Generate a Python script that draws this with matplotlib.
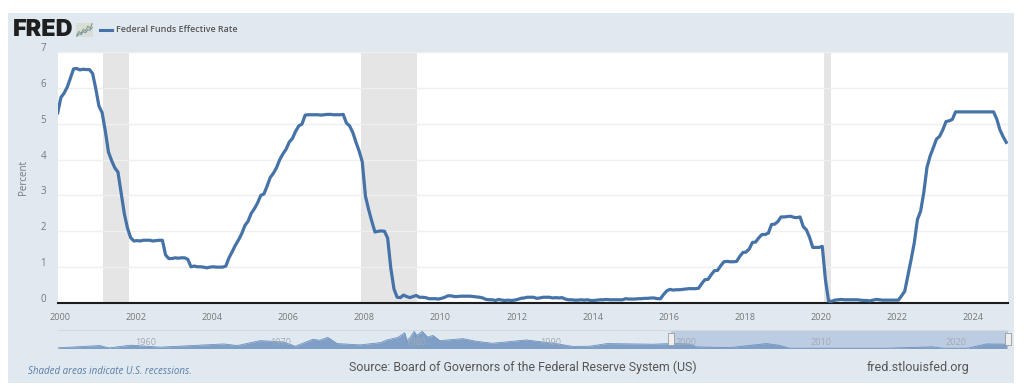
import matplotlib
matplotlib.use("Agg")
import matplotlib.pyplot as plt
import numpy as np
from matplotlib.patches import Rectangle
from matplotlib.transforms import ScaledTranslation

W, H = 1024, 392
YEARS = list(range(2000, 2025))
FEDFUNDS = [
    [5.30, 5.73, 5.85, 6.02, 6.27, 6.53, 6.54, 6.50, 6.52, 6.51, 6.51, 6.40],
    [5.98, 5.49, 5.31, 4.80, 4.21, 3.97, 3.77, 3.65, 3.07, 2.49, 2.09, 1.82],
    [1.73, 1.74, 1.73, 1.75, 1.75, 1.75, 1.73, 1.74, 1.75, 1.75, 1.34, 1.24],
    [1.24, 1.26, 1.25, 1.26, 1.26, 1.22, 1.01, 1.03, 1.01, 1.01, 1.00, 0.98],
    [1.00, 1.01, 1.00, 1.00, 1.00, 1.03, 1.26, 1.43, 1.61, 1.76, 1.93, 2.16],
    [2.28, 2.50, 2.63, 2.79, 3.00, 3.04, 3.26, 3.50, 3.62, 3.78, 4.00, 4.16],
    [4.29, 4.49, 4.59, 4.79, 4.94, 4.99, 5.24, 5.25, 5.25, 5.25, 5.25, 5.24],
    [5.25, 5.26, 5.26, 5.25, 5.25, 5.25, 5.26, 5.02, 4.94, 4.76, 4.49, 4.24],
    [3.94, 2.98, 2.61, 2.28, 1.98, 2.00, 2.01, 2.00, 1.81, 0.97, 0.39, 0.16],
    [0.15, 0.22, 0.18, 0.15, 0.18, 0.21, 0.16, 0.16, 0.15, 0.12, 0.12, 0.12],
    [0.11, 0.13, 0.16, 0.20, 0.20, 0.18, 0.18, 0.19, 0.19, 0.19, 0.19, 0.18],
    [0.17, 0.16, 0.14, 0.10, 0.09, 0.09, 0.07, 0.10, 0.08, 0.07, 0.08, 0.07],
    [0.08, 0.10, 0.13, 0.14, 0.16, 0.16, 0.16, 0.13, 0.14, 0.16, 0.16, 0.16],
    [0.14, 0.15, 0.14, 0.15, 0.11, 0.09, 0.09, 0.08, 0.08, 0.09, 0.08, 0.09],
    [0.07, 0.07, 0.08, 0.09, 0.09, 0.10, 0.09, 0.09, 0.09, 0.09, 0.09, 0.12],
    [0.11, 0.11, 0.11, 0.12, 0.12, 0.13, 0.13, 0.14, 0.14, 0.12, 0.12, 0.24],
    [0.34, 0.38, 0.36, 0.37, 0.37, 0.38, 0.39, 0.40, 0.40, 0.40, 0.41, 0.54],
    [0.65, 0.66, 0.79, 0.90, 0.91, 1.04, 1.15, 1.16, 1.15, 1.15, 1.16, 1.30],
    [1.41, 1.42, 1.51, 1.69, 1.70, 1.82, 1.91, 1.91, 1.95, 2.19, 2.20, 2.27],
    [2.40, 2.40, 2.41, 2.42, 2.39, 2.38, 2.40, 2.13, 2.04, 1.83, 1.55, 1.55],
    [1.55, 1.58, 0.65, 0.05, 0.05, 0.08, 0.09, 0.10, 0.09, 0.09, 0.09, 0.09],
    [0.09, 0.08, 0.07, 0.07, 0.06, 0.08, 0.10, 0.09, 0.08, 0.08, 0.08, 0.08],
    [0.08, 0.08, 0.20, 0.33, 0.77, 1.21, 1.68, 2.33, 2.56, 3.08, 3.78, 4.10],
    [4.33, 4.57, 4.65, 4.83, 5.06, 5.08, 5.12, 5.33, 5.33, 5.33, 5.33, 5.33],
    [5.33, 5.33, 5.33, 5.33, 5.33, 5.33, 5.33, 5.33, 5.13, 4.83, 4.64, 4.48],
]
RECESSIONS = [(2001.2, 2001.88), (2007.97, 2009.45), (2020.13, 2020.3)]
Y_TICKS = [0, 1, 2, 3, 4, 5, 6, 7]
X_TICKS = list(range(2000, 2025, 2))

NAV_YEARS = [1954.6, 1957.7, 1958.4, 1960.0, 1962.2, 1966.9, 1967.9, 1969.6, 1971.3, 1972.2,
             1973.5, 1974.0, 1974.6, 1975.3, 1977.0, 1978.5, 1979.0, 1979.8, 1980.3, 1980.5,
             1981.0, 1981.2, 1981.6, 1982.0, 1982.4, 1982.9, 1984.6, 1985.6, 1986.8, 1989.3,
             1991.5, 1992.8, 1994.0, 1995.3, 1998.7, 2000.0, 2001.3, 2001.9, 2004.0, 2004.6,
             2007.1, 2008.0, 2008.8, 2016.0, 2019.4, 2020.1, 2022.0, 2023.4, 2024.9]
NAV_VALUES = [0.7, 3.1, 0.6, 3.5, 1.4, 4.8, 3.1, 8.3, 6.9, 2.4,
              9.7, 8.7, 11.7, 5.2, 3.8, 6.2, 9.0, 11.7, 16.6, 6.9,
              18.0, 13.8, 18.0, 12.0, 13.8, 8.3, 10.4, 7.6, 5.5, 9.0,
              5.2, 2.1, 2.4, 5.2, 4.5, 5.2, 4.8, 1.7, 1.0, 1.2,
              5.2, 3.5, 0.3, 0.3, 1.7, 0.3, 0.3, 4.8, 4.5]
NAV_LABELS = [1960, 1970, 1980, 1990, 2000, 2010, 2020]
ICON_GREEN = [1, 2.2, 1.6, 3, 2.4, 4, 3.2, 4.8]
ICON_BLUE = [0.6, 1.4, 1.2, 2.2, 1.8, 2.8, 2.6, 3.6]

TICK = "#777777"
PANEL = "#e1e9f0"
BLUE = "#4572a7"

plt.rcParams["font.family"] = ["Open Sans", "DejaVu Sans"]
fig = plt.figure(figsize=(W / 100, H / 100), dpi=100, facecolor="white")

def box(l, t, r, b):
    return [l / W, 1 - b / H, (r - l) / W, (b - t) / H]

bg = fig.add_axes([0, 0, 1, 1], zorder=0)
bg.set_xlim(0, W); bg.set_ylim(H, 0); bg.axis("off")
bg.add_patch(Rectangle((8, 13), 1005.5, 370, fc=PANEL, ec="none"))

L, R = 57.7, 1008
YT, YB = 52, 303
ppy = 38.07
ax = fig.add_axes(box(L, YT, R, YB), zorder=1, facecolor="white")
ax.set_xlim(2000, 2000 + (R - L) / ppy)
ax.set_ylim(0, 7)
for a, b in RECESSIONS:
    ax.axvspan(a, b, color="#e5e5e5", lw=0, zorder=1)
ax.grid(axis="y", color="#efefef", lw=1, zorder=2)
t = np.array([y + m / 12 for y in YEARS for m in range(12)])
v = np.array(FEDFUNDS).ravel()
ax.plot(t, v, color=BLUE, lw=2.3, solid_joinstyle="round", zorder=3)
for s in ("top", "left", "right"):
    ax.spines[s].set_visible(False)
ax.spines["bottom"].set_color("#1c1c1c")
ax.spines["bottom"].set_linewidth(1.5)
ax.set_xticks(X_TICKS)
ax.set_xticklabels([str(x) for x in X_TICKS])
ax.tick_params(axis="x", length=0, pad=7, labelsize=6.6, labelcolor=TICK)
shift = ScaledTranslation(2 / 100, 0, fig.dpi_scale_trans)
for lab in ax.get_xticklabels():
    lab.set_transform(lab.get_transform() + shift)
ax.set_yticks(Y_TICKS)
ax.set_yticklabels([])
ax.tick_params(axis="y", length=0)
for y in Y_TICKS:
    ax.annotate(str(y), (0, y), xycoords=("axes fraction", "data"), xytext=(-10.5, 2.5),
                textcoords="offset points", ha="center", va="center", fontsize=7, color=TICK)
ax.set_ylabel("Percent", fontsize=7, color=TICK, labelpad=17.5)

# navigator
NT, NB = 330, 348.5
nav = fig.add_axes(box(L, NT, R, NB), zorder=1)
nav.patch.set_alpha(0)
nav.set_xlim(1954.6, 1954.6 + (R - L) / 13.5)
nav.set_ylim(0, 19.5)
nav.axvspan(2000, 2025, color="#bccce3", lw=0, zorder=1)
nav.fill_between(NAV_YEARS, NAV_VALUES, 0, color="#7f9fc6", lw=0, zorder=2)
nav.plot(NAV_YEARS, NAV_VALUES, color="#6f92bd", lw=0.6, zorder=2)
nav.set_xticks([])
nav.set_yticks([])
for s in ("left", "right", "bottom"):
    nav.spines[s].set_visible(False)
nav.spines["top"].set_color("#d3d9df")
nav.spines["top"].set_linewidth(0.8)
for yr in NAV_LABELS:
    nav.text(yr + 0.33, 0.32, str(yr), fontsize=6.6, color="#a3abb3", ha="left", va="center",
             zorder=3, transform=nav.get_xaxis_transform())
for px in (671, 1008):
    fig.add_artist(Rectangle(((px - 3) / W, 1 - 344.5 / H), 6 / W, 11.5 / H, fc="#efefef",
                             ec="#9a9a9a", lw=0.6, transform=fig.transFigure, zorder=6))

# header
fig.text(12.5 / W, 1 - 30 / H, "FRED", fontsize=16.8, fontweight="black", family="Inter",
         color="#1f1f1f", ha="left", va="center")
icon = fig.add_axes(box(76, 23, 93, 37), zorder=1, facecolor="#d9ddd8")
icon.plot(ICON_GREEN, color="#7f9a6a", lw=0.7)
icon.plot(ICON_BLUE, color="#6f8fb5", lw=0.7)
icon.axis("on"); icon.set_xticks([]); icon.set_yticks([])
for s in icon.spines.values():
    s.set_visible(False)
fig.add_artist(plt.Line2D([100 / W, 112 / W], [1 - 30 / H] * 2, color=BLUE, lw=2.2))
fig.text(116 / W, 1 - 30 / H, "Federal Funds Effective Rate", fontsize=6.4, color="#555555",
         ha="left", va="center", fontweight="semibold")

# footer
fig.text(28 / W, 1 - 371.5 / H, "Shaded areas indicate U.S. recessions.", fontsize=7, style="italic",
         color="#5a7da6", ha="left", va="center")
fig.text(349 / W, 1 - 367 / H, "Source: Board of Governors of the Federal Reserve System (US)",
         fontsize=8.9, family="Roboto", color="#555555", ha="left", va="center")
fig.text(867 / W, 1 - 367 / H, "fred.stlouisfed.org", fontsize=9.0, family="Roboto",
         color="#555555", ha="left", va="center")

fig.savefig("out.png", dpi=100, facecolor="white")
